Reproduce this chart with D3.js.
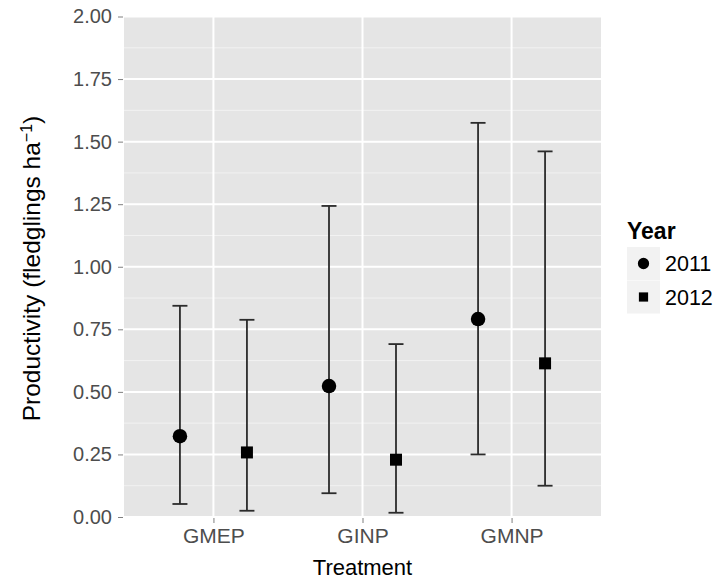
<!DOCTYPE html>
<html>
<head>
<meta charset="utf-8">
<script src="https://cdn.jsdelivr.net/npm/d3@7"></script>
<style>
  body { margin: 0; background: #fff; }
  text { font-family: "Liberation Sans", Arial, Helvetica, sans-serif; }
</style>
</head>
<body>
<svg id="chart" width="719" height="584"></svg>
<script>
// ---- Data ----
const treatments = ["GMEP", "GINP", "GMNP"];
const years = ["2011", "2012"];
const mean2011  = [0.323, 0.523, 0.791];
const lower2011 = [0.052, 0.095, 0.250];
const upper2011 = [0.844, 1.243, 1.575];
const mean2012  = [0.258, 0.229, 0.614];
const lower2012 = [0.025, 0.017, 0.125];
const upper2012 = [0.788, 0.691, 1.461];
const yTicks = [0, 0.25, 0.5, 0.75, 1.0, 1.25, 1.5, 1.75, 2.0];
const yMinor = [0.125, 0.375, 0.625, 0.875, 1.125, 1.375, 1.625, 1.875];

const rows = [];
treatments.forEach((t, i) => {
  rows.push({t, year: "2011", m: mean2011[i], lo: lower2011[i], hi: upper2011[i]});
  rows.push({t, year: "2012", m: mean2012[i], lo: lower2012[i], hi: upper2012[i]});
});

// ---- Layout ----
const svg = d3.select("#chart");
const P = {left: 124, right: 601, top: 16, bottom: 517};

const x = d3.scalePoint().domain(treatments).range([P.left, P.right]).padding(0.6);
const y = d3.scaleLinear().domain([0, 2]).range([P.bottom, P.top + 0.5]);
const dodge = d3.scalePoint().domain(years).range([-33.5, 33.5]);

// panel
svg.append("rect").attr("x", P.left).attr("y", P.top)
  .attr("width", P.right - P.left).attr("height", P.bottom - P.top)
  .attr("fill", "#E5E5E5");

// minor grid
svg.append("g").selectAll("line").data(yMinor).join("line")
  .attr("x1", P.left).attr("x2", P.right)
  .attr("y1", d => y(d)).attr("y2", d => y(d))
  .attr("stroke", "#F2F2F2").attr("stroke-width", 1);

// major grid
svg.append("g").selectAll("line").data(yTicks).join("line")
  .attr("x1", P.left).attr("x2", P.right)
  .attr("y1", d => y(d)).attr("y2", d => y(d))
  .attr("stroke", "#FFFFFF").attr("stroke-width", 2);
svg.append("g").selectAll("line").data(treatments).join("line")
  .attr("y1", P.top).attr("y2", P.bottom)
  .attr("x1", d => x(d)).attr("x2", d => x(d))
  .attr("stroke", "#FFFFFF").attr("stroke-width", 2);

// axes
const yAxis = d3.axisLeft(y).tickValues(yTicks).tickFormat(d3.format(".2f"))
  .tickSize(5).tickPadding(6);
const gy = svg.append("g").attr("transform", `translate(${P.left - 1},0)`).call(yAxis);
gy.select(".domain").remove();
gy.selectAll(".tick line").attr("stroke", "#7F7F7F").attr("stroke-width", 1);
gy.selectAll(".tick text").attr("fill", "#4D4D4D").style("font-size", "20px")
  .style("font-family", "'Liberation Sans', Arial, sans-serif");

const xAxis = d3.axisBottom(x).tickSize(5).tickPadding(5);
const gx = svg.append("g").attr("transform", `translate(0,${P.bottom + 1})`).call(xAxis);
gx.select(".domain").remove();
gx.selectAll(".tick line").attr("stroke", "#7F7F7F").attr("stroke-width", 1);
gx.selectAll(".tick text").attr("fill", "#4D4D4D").style("font-size", "21px")
  .style("font-family", "'Liberation Sans', Arial, sans-serif");

// error bars
const capHalf = 7.5;
const eb = svg.append("g").selectAll("g").data(rows).join("g")
  .attr("stroke", "#2B2B2B").attr("stroke-width", 1.8);
eb.append("line")
  .attr("x1", d => x(d.t) + dodge(d.year)).attr("x2", d => x(d.t) + dodge(d.year))
  .attr("y1", d => y(d.lo)).attr("y2", d => y(d.hi));
eb.append("line")
  .attr("x1", d => x(d.t) + dodge(d.year) - capHalf).attr("x2", d => x(d.t) + dodge(d.year) + capHalf)
  .attr("y1", d => y(d.lo)).attr("y2", d => y(d.lo));
eb.append("line")
  .attr("x1", d => x(d.t) + dodge(d.year) - capHalf).attr("x2", d => x(d.t) + dodge(d.year) + capHalf)
  .attr("y1", d => y(d.hi)).attr("y2", d => y(d.hi));

// points
const shape = {"2011": d3.symbolCircle, "2012": d3.symbolSquare};
const size = {"2011": 165, "2012": 144};
svg.append("g").selectAll("path").data(rows).join("path")
  .attr("transform", d => `translate(${x(d.t) + dodge(d.year)},${y(d.m)})`)
  .attr("d", d => d3.symbol().type(shape[d.year]).size(size[d.year])())
  .attr("fill", "#000");

// axis titles
svg.append("text").attr("x", (P.left + P.right) / 2).attr("y", 575)
  .attr("text-anchor", "middle").style("font-size", "22px").attr("fill", "#000")
  .text("Treatment");

const yt = svg.append("text")
  .attr("transform", `translate(40,${(P.top + P.bottom) / 2 + 2}) rotate(-90)`)
  .attr("text-anchor", "middle").style("font-size", "24.5px").attr("fill", "#000");
yt.append("tspan").text("Productivity (fledglings ha");
yt.append("tspan").attr("baseline-shift", "super").style("font-size", "16px").text("\u22121");
yt.append("tspan").text(")");

// legend
const lg = svg.append("g");
lg.append("text").attr("x", 627).attr("y", 239).style("font-size", "23px")
  .style("font-weight", "bold").attr("fill", "#000").text("Year");
const items = lg.selectAll("g.item").data(years).join("g").attr("class", "item")
  .attr("transform", (d, i) => `translate(627,${247 + i * 33.5})`);
items.append("rect").attr("width", 33).attr("height", 33).attr("fill", "#F2F2F2");
items.append("path").attr("transform", "translate(16.5,16.5)")
  .attr("d", d => d3.symbol().type(shape[d]).size(d === "2011" ? 100 : 85)())
  .attr("fill", "#000");
items.append("text").attr("x", 38).attr("y", 24).style("font-size", "21.5px")
  .attr("fill", "#000").text(d => d);
</script>
</body>
</html>
